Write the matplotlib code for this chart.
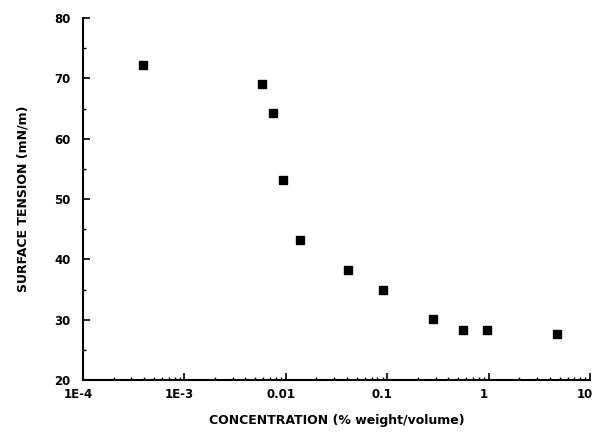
import matplotlib
matplotlib.use("Agg")
import matplotlib.pyplot as plt
import matplotlib.transforms as mtransforms
from matplotlib.ticker import LogLocator, FixedLocator, FixedFormatter, MultipleLocator, NullFormatter

concentration = [3.9e-4, 5.8e-3, 7.4e-3, 9.3e-3, 0.0138, 0.041, 0.091, 0.28, 0.565, 0.96, 4.7]
surface_tension = [72.2, 69.1, 64.3, 53.2, 43.3, 38.3, 35.0, 30.1, 28.3, 28.3, 27.6]
x_ticks = [1e-4, 1e-3, 1e-2, 1e-1, 1, 10]
x_tick_labels = ["1E-4", "1E-3", "0.01", "0.1", "1", "10"]
y_ticks = [20, 30, 40, 50, 60, 70, 80]

plt.rcParams['font.family'] = ['DejaVu Sans']
fig = plt.figure(figsize=(5.93, 4.32), dpi=100)
ax = fig.add_axes([0.140, 0.120, 0.855, 0.838])

ax.plot(concentration, surface_tension, linestyle='none', marker='s',
        markersize=5.5, color='black')

ax.set_xscale('log')
ax.set_xlim(1e-4, 10)
ax.set_ylim(20, 80)

ax.xaxis.set_major_locator(FixedLocator(x_ticks))
ax.xaxis.set_major_formatter(FixedFormatter(x_tick_labels))
ax.xaxis.set_minor_locator(LogLocator(base=10, subs=[2, 3, 4, 5, 6, 7, 8, 9], numticks=20))
ax.xaxis.set_minor_formatter(NullFormatter())
ax.yaxis.set_major_locator(FixedLocator(y_ticks))
ax.yaxis.set_minor_locator(MultipleLocator(5))

for s in ['top', 'right']:
    ax.spines[s].set_visible(False)
for s in ['left', 'bottom']:
    ax.spines[s].set_linewidth(1.5)

ax.tick_params(axis='both', which='major', direction='in', length=5, width=1.2,
               labelsize=8.5)
ax.tick_params(axis='y', which='major', pad=9)
ax.tick_params(axis='x', which='major', pad=6)
ax.tick_params(axis='both', which='minor', direction='in', length=2.5, width=1.0)

offset = mtransforms.ScaledTranslation(-5 / 100, 0, fig.dpi_scale_trans)
for lab in ax.get_xticklabels():
    lab.set_fontweight('bold')
    lab.set_transform(lab.get_transform() + offset)
for lab in ax.get_yticklabels():
    lab.set_fontweight('bold')

ax.set_xlabel("CONCENTRATION (% weight/volume)", fontsize=9, fontweight='bold', labelpad=9)
ax.set_ylabel("SURFACE TENSION (mN/m)", fontsize=9, fontweight='bold', labelpad=18)

fig.savefig("out.png", dpi=100, facecolor='white')
